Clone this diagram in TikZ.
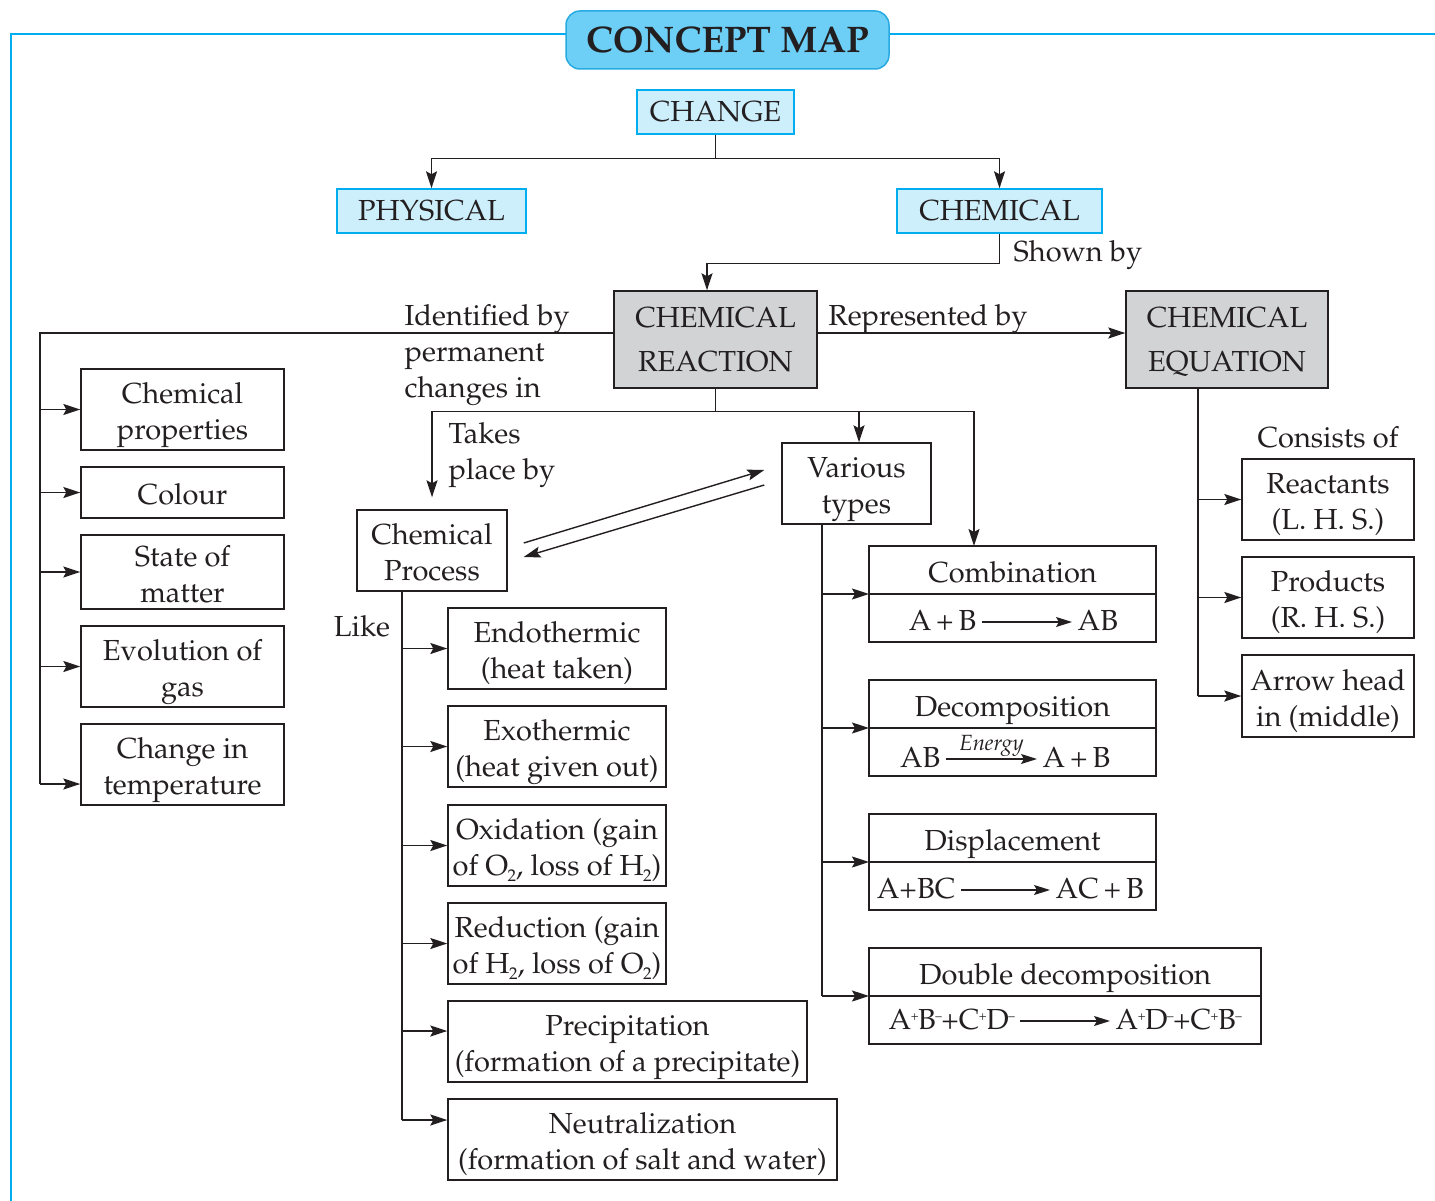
\documentclass[tikz,border=0pt]{standalone}
\usepackage[T1]{fontenc}
\usepackage{mathpazo}
\usepackage{tikz}
\usetikzlibrary{arrows.meta,positioning,calc}
\definecolor{MapCyan}{HTML}{00AEEF}
\definecolor{MapTitle}{HTML}{6DCFF6}
\definecolor{MapTitleLine}{HTML}{27AAE1}
\definecolor{MapPale}{HTML}{CDEEFB}
\definecolor{MapGrey}{HTML}{D1D3D4}
\definecolor{MapInk}{HTML}{231F20}
\newcommand\ionsup[1]{\kern-0.5pt\raisebox{9pt}{\fontsize{13}{13}\selectfont#1}\kern-0.5pt}
\newcommand\lowsub[1]{\kern-0.5pt\raisebox{-6pt}{\fontsize{17}{17}\selectfont#1}}

\begin{document}
\begin{tikzpicture}[x=1pt,y=-1pt,font=\fontsize{29}{36}\selectfont,text=MapInk,line width=1.4pt,
    arr/.style={draw=MapInk, -{Stealth[length=17pt,width=11pt,inset=3pt]}},
    link/.style={draw=MapInk},
    plainbox/.style={draw=MapInk, align=center, inner sep=0pt, text height=66pt, text depth=6pt},
    oneline/.style={text height=30pt, text depth=6pt},
    partbox/.style={plainbox, oneline, outer sep=0pt},
    greybox/.style={draw=MapInk, fill=MapGrey, align=center, inner sep=0pt, text depth=0pt,
      font=\fontsize{29}{44}\selectfont},
    bluebox/.style={draw=MapCyan, fill=MapPale, inner sep=0pt},
    titlebox/.style={draw=MapTitleLine, fill=MapTitle, rounded corners=14pt, line width=1.5pt,
      minimum width=323pt, minimum height=58pt, font=\fontsize{37}{44}\selectfont\bfseries},
    lbl/.style={inner sep=0pt, align=left},
    eqtxt/.style={inner sep=5pt, text height=20pt, text depth=4pt},
    eqarr/.style={draw=MapInk, line width=1.2pt, -{Stealth[length=16pt,width=10pt,inset=3pt]}}]
    \useasboundingbox (0,0) rectangle (1435,1201);

    % frame and title
    \draw[MapCyan, line width=2.5pt] (11,1201) -- (11,34) -- (1435,34);
    \node[titlebox] (title) at (727.5,40) {CONCEPT MAP};

    % top levels
    \node[bluebox, minimum width=157pt, minimum height=44pt] (change) at (715.5,112) {CHANGE};
    \node[bluebox, minimum width=189pt, minimum height=44pt] (phys) at (431.5,211) {PHYSICAL};
    \node[bluebox, minimum width=205pt, minimum height=44pt] (chem) at (999.5,211) {CHEMICAL};
    \node[greybox, minimum width=203pt, minimum height=97pt] (react) at (715.5,339.5) {CHEMICAL\\REACTION};
    \node[greybox, minimum width=202pt, minimum height=97pt] (eq) at (1227,339.5) {CHEMICAL\\EQUATION};

    \coordinate (cj) at ([yshift=-24pt]change.south);
    \draw[link] (change.south) -- (cj);
    \draw[arr] (cj) -| (phys.north);
    \draw[arr] (cj) -| (chem.north);
    \draw[arr] (chem.south) -- ++(0,30) -| ([xshift=-8.5pt]react.north);
    \node[lbl, anchor=west] (shown) at (1013,255) {Shown by};
    \draw[arr] ([yshift=6.5pt]react.east) -- ([yshift=6.5pt]eq.west);
    \node[lbl] (repr) at (928,319) {Represented by};

    % identified by
    \node[lbl, anchor=west] (ident) at (404,355) {Identified by\\permanent\\changes in};
    \node[plainbox, minimum width=203pt, minimum height=81pt] (cprop) at (182.5,409.5) {Chemical\\properties};
    \node[plainbox, oneline, minimum width=203pt, minimum height=51pt] (colour) at (182.5,492.5) {Colour};
    \node[plainbox, minimum width=203pt, minimum height=74pt] (state) at (182.5,572) {State of\\matter};
    \node[plainbox, minimum width=203pt, minimum height=81pt] (evol) at (182.5,666.5) {Evolution of\\gas};
    \node[plainbox, minimum width=203pt, minimum height=81pt] (ctemp) at (182.5,764.5) {Change in\\temperature};
    \coordinate (lbus) at (40,333);
    \coordinate (ctin) at ([yshift=-19.5pt]ctemp.west);
    \draw[link] ([yshift=6.5pt]react.west) -- (lbus) -- (lbus |- ctin);
    \foreach \b in {cprop,colour,state,evol}
      \draw[arr] (lbus |- \b.west) -- (\b.west);
    \draw[arr] (lbus |- ctin) -- (ctin);

    % reaction splits
    \node[plainbox, minimum width=150pt, minimum height=81pt] (proc) at (432,550.5) {Chemical\\Process};
    \node[plainbox, minimum width=149pt, minimum height=81pt] (types) at (856.5,483.5) {Various\\types};
    \coordinate (rj) at ([yshift=-23pt]react.south);
    \draw[link] (react.south) -- (rj);
    \draw[arr, shorten >=12pt] (rj) -| (proc.north);
    \draw[arr] (rj) -| ([xshift=2.5pt]types.north);
    \node[lbl, anchor=west] (takes) at (448,455) {Takes\\place by};
    \draw[arr] ([shift={(16pt,7.5pt)}]proc.east) -- ([shift={(-17pt,13.5pt)}]types.west);
    \draw[arr] ([shift={(-17pt,-1.5pt)}]types.west) -- ([shift={(16pt,-6.5pt)}]proc.east);

    % process kinds
    \node[lbl] (like) at (362,626) {Like};
    \node[plainbox, minimum width=218pt, minimum height=81pt] (endo) at (557,648.5) {Endothermic\\(heat taken)};
    \node[plainbox, minimum width=218pt, minimum height=81pt] (exo) at (557,746.5) {Exothermic\\(heat given out)};
    \node[plainbox, minimum width=218pt, minimum height=81pt] (oxi) at (557,845.5) {Oxidation (gain\\of O\lowsub{2}, loss of H\lowsub{2})};
    \node[plainbox, minimum width=218pt, minimum height=81pt] (red) at (557,943.5) {Reduction (gain\\of H\lowsub{2}, loss of O\lowsub{2})};
    \node[plainbox, minimum width=359pt, minimum height=81pt] (prec) at (627.5,1041.5) {Precipitation\\(formation of a precipitate)};
    \node[plainbox, minimum width=389pt, minimum height=81pt] (neut) at (642.5,1139.5) {Neutralization\\(formation of salt and water)};
    \coordinate (pstem) at ([xshift=-30pt]proc.south);
    \coordinate (precin) at ([yshift=10.5pt]prec.west);
    \coordinate (neutin) at ([yshift=19.5pt]neut.west);
    \draw[link] (pstem) -- (pstem |- neutin);
    \foreach \b in {endo,exo,oxi,red}
      \draw[arr] (pstem |- \b.west) -- (\b.west);
    \draw[arr] (pstem |- precin) -- (precin);
    \draw[arr] (pstem |- neutin) -- (neutin);

    % reaction types
    \node[partbox, minimum width=287pt, minimum height=48pt] (comb) at (1012.5,570) {Combination};
    \node[partbox, minimum width=287pt, minimum height=48pt, anchor=north] (combeq) at (comb.south) {};
    \node[eqtxt, anchor=east] (combl) at (982,622) {A\,+\,B};
    \node[eqtxt, anchor=west] (combr) at (1072,622) {AB};
    \draw[eqarr] (combl.east) -- (combl.east -| combr.west);

    \node[partbox, minimum width=287pt, minimum height=48pt] (dec) at (1012.5,704) {Decomposition};
    \node[partbox, minimum width=287pt, minimum height=48pt, anchor=north] (deceq) at (dec.south) {};
    \node[eqtxt, anchor=east] (decl) at (946,759) {AB};
    \node[eqtxt, anchor=west] (decr) at (1037,759) {A\,+\,B};
    \draw[eqarr] (decl.east) -- node[above, inner sep=1.5pt, font=\fontsize{22}{24}\selectfont\itshape] {Energy} (decl.east -| decr.west);

    \node[partbox, minimum width=287pt, minimum height=48pt] (disp) at (1012.5,838) {Displacement};
    \node[partbox, minimum width=287pt, minimum height=48pt, anchor=north] (dispeq) at (disp.south) {};
    \node[eqtxt, anchor=east] (displ) at (961,890) {A+BC};
    \node[eqtxt, anchor=west] (dispr) at (1050,890) {AC\,+\,B};
    \draw[eqarr] (displ.east) -- (displ.east -| dispr.west);

    \node[partbox, minimum width=392pt, minimum height=48pt] (dd) at (1065,972) {Double decomposition};
    \node[partbox, minimum width=392pt, minimum height=48pt, anchor=north] (ddeq) at (dd.south) {};
    \node[eqtxt, anchor=east] (ddl) at (1020,1021) {A\ionsup{+}B\ionsup{--}+C\ionsup{+}D\ionsup{--}};
    \node[eqtxt, anchor=west] (ddr) at (1110,1021) {A\ionsup{+}D\ionsup{--}+C\ionsup{+}B\ionsup{--}};
    \draw[eqarr] (ddl.east) -- (ddl.east -| ddr.west);

    \coordinate (tstem) at ([xshift=-34.5pt]types.south);
    \draw[link] (tstem) -- (tstem |- dd.south west);
    \foreach \b in {comb,dec,disp,dd}
      \draw[arr] (tstem |- \b.south west) -- (\b.south west);
    \draw[arr] (rj) -| ([xshift=-38.5pt]comb.north);

    % equation parts
    \node[lbl] (consist) at (1328,437) {Consists of};
    \node[plainbox, minimum width=172pt, minimum height=81pt] (reac) at (1328,499.5) {Reactants\\(L. H. S.)};
    \node[plainbox, minimum width=172pt, minimum height=81pt] (prod) at (1328,597.5) {Products\\(R. H. S.)};
    \node[plainbox, minimum width=172pt, minimum height=82pt] (ahead) at (1328,696) {Arrow head\\in (middle)};
    \coordinate (estem) at ([xshift=-29pt]eq.south);
    \draw[link] (estem) -- (estem |- ahead.west);
    \foreach \b in {reac,prod,ahead}
      \draw[arr] (estem |- \b.west) -- (\b.west);
  \end{tikzpicture}
\end{document}
